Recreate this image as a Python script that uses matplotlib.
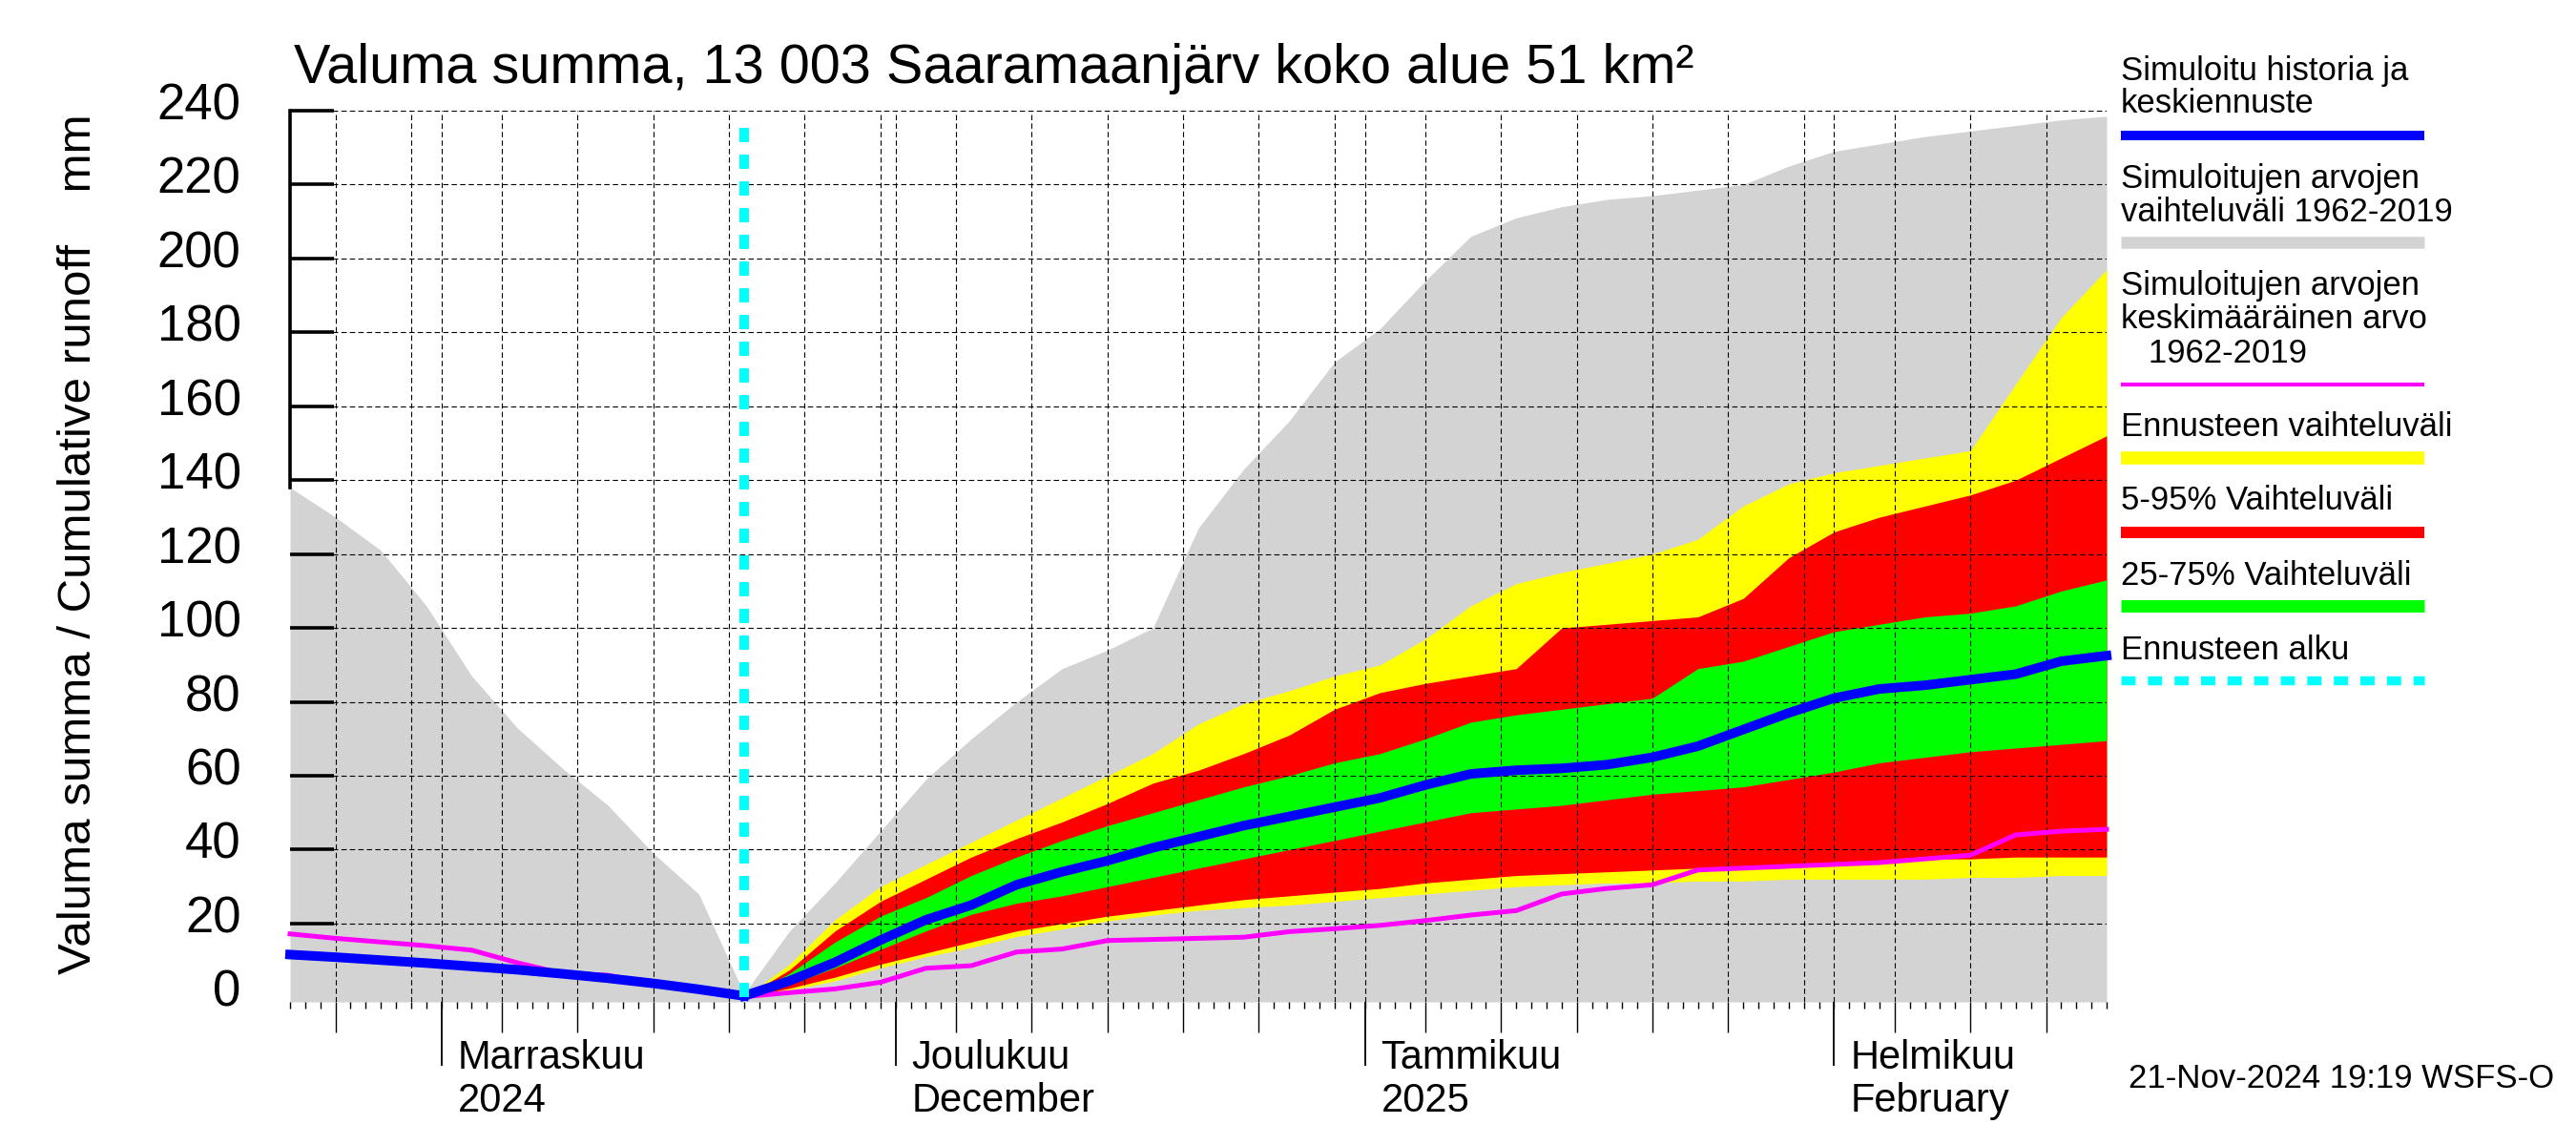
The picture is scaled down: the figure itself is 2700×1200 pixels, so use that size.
import numpy as np
import matplotlib
matplotlib.use('Agg')
import matplotlib.pyplot as plt
import matplotlib.dates as mdates
from matplotlib.lines import Line2D
from matplotlib.transforms import blended_transform_factory, ScaledTranslation

plt.rcParams['font.family'] = ['Liberation Sans', 'DejaVu Sans']

# ---- data ----
start = np.datetime64('2024-10-22')
fc_start = np.datetime64('2024-11-21')
end = np.datetime64('2025-02-19')

# day offsets from 22 Oct 2024
hist_days = [0, 3, 6, 9, 12, 15, 18, 21, 24, 27, 30, 33, 36, 39, 42, 45, 48, 51, 54, 57,
             60, 63, 66, 69, 72, 75, 78, 81, 84, 87, 90, 93, 96, 99, 102, 105, 108, 111,
             114, 117, 120]
gray_hi = [138, 130, 121, 106, 87, 73, 62, 52, 39, 28, 1, 18, 31, 45, 59, 70, 80, 89, 94, 100,
           127, 143, 156, 172, 181, 194, 206, 211, 214, 216, 217, 218.5, 220, 225, 229, 231,
           233, 234.5, 236, 237.5, 238.5]
mean_hist = [17.2, 16.0, 15.0, 14.0, 12.8, 9.4, 6.5, 6.0, 3.5, 1.9, 0.2, 1.3, 2.3, 4.1, 7.9,
             8.6, 12.3, 13.1, 15.4, 15.7, 16.0, 16.3, 17.8, 18.6, 19.5, 20.8, 22.3, 23.5, 28,
             29.5, 30.5, 34.5, 35, 35.5, 36, 36.5, 37.5, 38.5, 44, 45, 45.5]

sim_days = [0, 3, 6, 9, 12, 15, 18, 21, 24, 27, 30]
sim_hist = [11.6, 10.9, 10.1, 9.3, 8.4, 7.5, 6.4, 5.2, 3.8, 2.2, 0.4]

fc_days = [30, 33, 36, 39, 42, 45, 48, 51, 54, 57, 60, 63, 66, 69, 72, 75, 78, 81, 84, 87,
           90, 93, 96, 99, 102, 105, 108, 111, 114, 117, 120]
median_fc = [0.4, 4.5, 9.5, 15.5, 21, 25, 30.5, 34, 37, 40.5, 43.5, 46.5, 49, 51.5, 54, 57.5,
             60.5, 61.5, 62, 63, 65, 68, 72.5, 77, 81, 83.5, 84.5, 86, 87.5, 91, 92.5]
yel_lo = [0, 2, 4.5, 8, 11, 13.5, 16.5, 18.5, 20.7, 22.3, 23.6, 24.3, 25, 26, 27, 28, 29, 30,
          30.5, 31, 31, 31.5, 31.5, 32, 32, 32, 32, 32.5, 32.5, 33, 33]
red_lo = [0, 2.5, 5.5, 9, 12, 15, 18, 20, 22, 23.5, 25, 26.5, 27.5, 28.5, 29.5, 31, 32, 33,
          33.5, 34, 34.5, 35, 35.5, 36, 36.5, 37, 37.5, 37.5, 38, 38, 38]
grn_lo = [0, 3.5, 8, 13, 18, 22.5, 25.5, 27.5, 30, 32.5, 35, 37.5, 40, 42.5, 45, 47.5, 50, 51,
          52, 53.5, 55, 56, 57, 59, 61, 63.5, 65, 66.5, 67.5, 68.5, 69.5]
grn_hi = [0, 6.5, 15, 22, 27, 33, 38, 42.5, 46.5, 50, 53.5, 57, 60, 63.5, 66, 70, 74.5, 76.5,
          78, 79.5, 81, 89, 91, 95, 99, 101, 103, 104, 106, 110, 113]
red_hi = [0, 7.5, 18, 26, 32, 38, 43, 47.5, 52.5, 58, 61.5, 66, 71, 78, 82.5, 85, 87, 89, 100,
          101, 102, 103, 108, 119, 126, 130, 133, 136, 140, 146, 152]
yel_hi = [0, 9, 21, 30, 36, 42, 48, 54, 60, 66, 74, 79.5, 83, 87, 90, 97, 106, 112, 115, 117.5,
          120, 124, 133, 139, 142, 144, 146, 148, 166, 184, 197]

month_labels = [('2024-11-01', 'Marraskuu', '2024'),
                ('2024-12-01', 'Joulukuu', 'December'),
                ('2025-01-01', 'Tammikuu', '2025'),
                ('2025-02-01', 'Helmikuu', 'February')]

title = 'Valuma summa, 13 003 Saaramaanjärv koko alue 51 km²'
ylabel = 'Valuma summa / Cumulative runoff    mm'
stamp = '21-Nov-2024 19:19 WSFS-O'

# ---- figure ----
W, H = 2700, 1200
fig = plt.figure(figsize=(27, 12), dpi=100)
ax = fig.add_axes([304 / W, 1 - 1050 / H, (2208 - 304) / W, (1050 - 116) / H])

to_dates = lambda d: start + np.array(d).astype('timedelta64[D]')
hd, sd, fd = to_dates(hist_days), to_dates(sim_days), to_dates(fc_days)

ymin = -1.2
ax.set_xlim(start, end)
ax.set_ylim(ymin, 240)

ax.fill_between(hd, ymin, gray_hi, color='#d3d3d3', lw=0, zorder=1)
ax.fill_between(fd, yel_lo, yel_hi, color='#ffff00', lw=0, zorder=1.1)
ax.fill_between(fd, red_lo, red_hi, color='#ff0000', lw=0, zorder=1.2)
ax.fill_between(fd, grn_lo, grn_hi, color='#00ff00', lw=0, zorder=1.3)

# grid
for y in range(20, 241, 20):
    ax.axhline(y, color='black', lw=0.8, ls=(0, (5, 3)), zorder=2)
d = start
while d <= end:
    dd = d.astype(object)
    if dd.day in (1, 5, 10, 15, 20, 25, 30):
        ax.axvline(d, color='black', lw=0.8, ls=(0, (5, 3)), zorder=2)
    d += np.timedelta64(1, 'D')

ax.plot(hd, mean_hist, color='#ff00ff', lw=3.6, zorder=3, clip_on=False)
ax.plot(sd, sim_hist, color='#0000ff', lw=7.2, zorder=4, clip_on=False)
ax.plot(fd, median_fc, color='#0000ff', lw=7.2, zorder=4, clip_on=False)
ax.axvline(fc_start, ymin=0.005, ymax=0.995, color='#00ffff', lw=7.2, dashes=(1.5, 1.3), zorder=5)

# axes / ticks
for s in ('top', 'right', 'bottom'):
    ax.spines[s].set_visible(False)
ax.spines['left'].set_linewidth(2.6)
ax.spines['left'].set_bounds(gray_hi[0], 240)
ax.set_yticks(range(0, 241, 20))
ax.tick_params(axis='y', direction='in', length=33, width=2.6, labelsize=38, pad=37)
ax.yaxis.get_major_ticks()[0].tick1line.set_visible(False)
off = ScaledTranslation(0, 0.10, fig.dpi_scale_trans)
for lab in ax.get_yticklabels():
    lab.set_transform(lab.get_transform() + off)

ax.xaxis.set_major_locator(mdates.DayLocator(bymonthday=[5, 10, 15, 20, 25]))
ax.xaxis.set_minor_locator(mdates.DayLocator())
ax.tick_params(axis='x', which='major', direction='out', length=23, width=1.0, labelbottom=False)
ax.tick_params(axis='x', which='minor', direction='out', length=5, width=1.0)

trans = blended_transform_factory(ax.transData, ax.transAxes)
mdays = [np.datetime64(m[0]) for m in month_labels]
ax.vlines(mdays, 0, -67 / 934, transform=trans, color='black', lw=1.3, clip_on=False)
tfig = blended_transform_factory(ax.transData, fig.transFigure)
shift = ScaledTranslation(0.17, 0, fig.dpi_scale_trans)
for md, l1, l2 in zip(mdays, [m[1] for m in month_labels], [m[2] for m in month_labels]):
    ax.text(md, 1 - 1120 / H, l1, transform=tfig + shift, fontsize=30, va='baseline', ha='left')
    ax.text(md, 1 - 1165 / H, l2, transform=tfig + shift, fontsize=30, va='baseline', ha='left')

# texts
fig.text(308 / W, 1 - 87 / H, title, fontsize=41.5, va='baseline', ha='left')
fig.text(83 / W, 1 - 570 / H, ylabel, fontsize=35.5, rotation=90, va='center', ha='center')
fig.text(2677 / W, 1 - 1140 / H, stamp, fontsize=25, va='baseline', ha='right')

# legend
lx0, lx1 = 2223 / W, 2541 / W
legend_text = [(84, 'Simuloitu historia ja'), (117.5, 'keskiennuste'),
               (197, 'Simuloitujen arvojen'), (232, 'vaihteluväli 1962-2019'),
               (309, 'Simuloitujen arvojen'), (344, 'keskimääräinen arvo'),
               (380, '   1962-2019'), (457, 'Ennusteen vaihteluväli'),
               (534, '5-95% Vaihteluväli'), (613, '25-75% Vaihteluväli'),
               (691, 'Ennusteen alku')]
for yp, t in legend_text:
    fig.text(lx0, 1 - yp / H, t, fontsize=25, va='baseline', ha='left')
legend_lines = [(142, '#0000ff', 7.2), (254, '#d3d3d3', 9.0), (402.5, '#ff00ff', 3.0),
                (480, '#ffff00', 9.8), (557.5, '#ff0000', 8.6), (635, '#00ff00', 9.4)]
for yp, c, w in legend_lines:
    fig.add_artist(Line2D([lx0, lx1], [1 - yp / H] * 2, color=c, lw=w, solid_capstyle='butt',
                          transform=fig.transFigure))
fig.add_artist(Line2D([lx0, lx1], [1 - 713 / H] * 2, color='#00ffff', lw=6.8,
                      dashes=(15 / 9.5, 13 / 9.5), transform=fig.transFigure))

fig.savefig('out.png', dpi=100)
